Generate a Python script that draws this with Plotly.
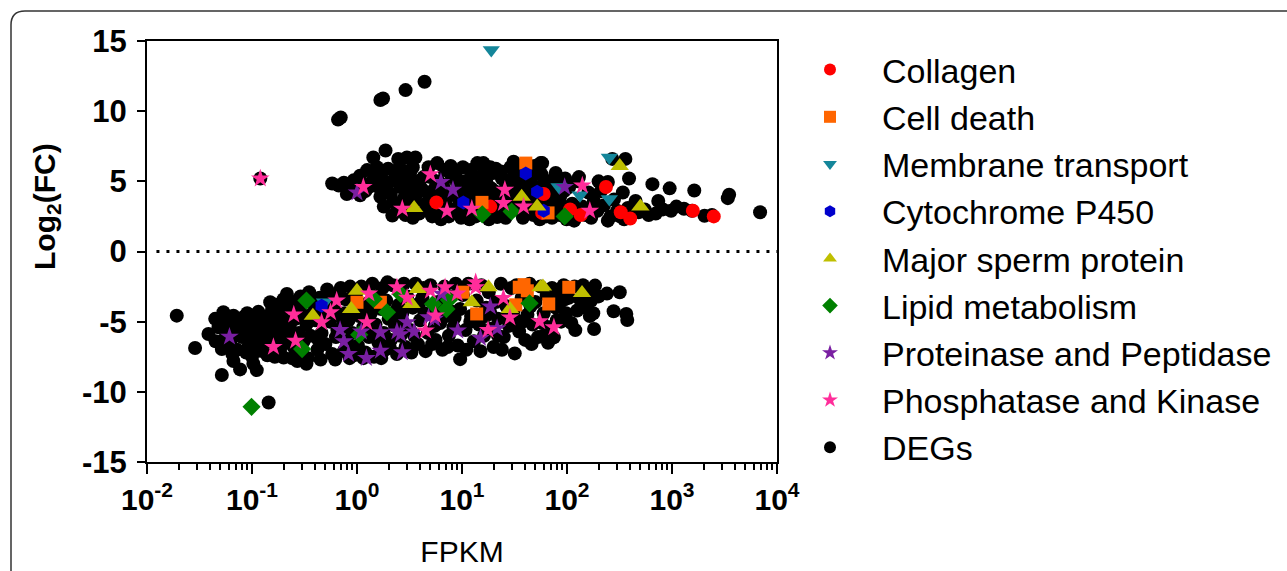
import plotly.graph_objects as go

# ---------------- data (FPKM, log2 fold change) ----------------
deg_up_fpkm = [0.66, 0.70, 1.67, 1.77, 2.9, 4.4, 0.12,
    0.58, 0.67, 0.80, 0.75, 0.93, 1.07, 1.07, 0.95, 1.15,
    1.43, 1.87, 1.5, 1.67, 1.98, 1.3, 1.6, 1.8, 1.4, 1.25, 1.55, 1.9,
    2.17, 2.47, 2.99, 3.6, 2.6, 3.2, 2.4, 2.2, 2.5, 2.8, 3.0, 3.3, 3.8, 2.3, 2.7, 3.5, 3.9, 2.9, 3.4, 3.7, 2.0,
    4.2, 5.0, 6.2, 8.0, 4.8, 4.5, 5.5, 6.0, 6.6, 7.0, 7.5, 8.5, 9.1, 9.5, 5.2, 4.6, 6.8, 9.0, 7.8, 5.8, 4.3, 8.8, 9.8, 6.3,
    12.0, 12.9, 16, 18.6, 11.5, 21.6, 10.5, 11, 13, 14, 14.5, 15.5, 17, 17.5, 19, 19.5, 20, 22, 23, 24, 25, 26, 27, 28,
    11.8, 13.5, 16.5, 18, 12.5, 15, 21, 29, 10.2, 14, 13.2,
    31, 56, 58, 78, 60, 32, 34, 36, 38, 42, 45, 48, 50, 53, 55, 62, 65, 70, 72, 75, 80, 85, 88, 92, 96, 35, 44, 68, 47, 39, 52, 63, 82, 99,
    117, 180, 245, 245, 105, 112, 125, 140, 150, 160, 170, 195, 210, 225, 260, 280, 300, 360, 390, 340, 380, 270, 130, 200, 320, 350,
    651, 950, 740, 1630, 3400, 3500, 6900, 980, 1300, 2040, 480, 550, 600, 450, 700, 820, 1100, 2400, 1550]
deg_up_fc = [9.4, 9.55, 10.8, 10.9, 11.5, 12.1, 5.2,
    4.85, 4.7, 4.1, 4.9, 5.07, 4.0, 5.4, 4.5, 4.8,
    6.7, 7.2, 5.3, 3.9, 5.9, 4.6, 4.6, 3.2, 5.0, 5.8, 6.0, 4.3,
    2.57, 6.6, 6.7, 6.7, 4.6, 5.6, 5.8, 3.5, 3.0, 3.8, 4.2, 4.8, 5.0, 5.2, 5.1, 3.6, 2.7, 2.6, 2.4, 4.1, 4.9,
    4.4, 5.3, 3.9, 5.3, 6.0, 3.4, 4.5, 2.8, 4.7, 3.4, 2.5, 4.0, 2.7, 3.6, 2.5, 2.9, 5.8, 4.8, 6.1, 6.3, 5.3, 5.7, 2.4, 2.3,
    5.8, 4.6, 6.3, 6.0, 3.9, 2.45, 5.0, 2.8, 3.3, 4.0, 5.3, 6.1, 5.0, 3.9, 4.5, 3.1, 5.6, 4.0, 2.9, 5.2, 3.5, 2.4, 4.7, 3.8,
    2.3, 2.5, 2.6, 2.3, 3.6, 4.4, 5.9, 6.0, 6.0, 6.3, 4.9,
    6.4, 6.3, 6.3, 5.6, 4.1, 3.0, 4.3, 5.0, 2.4, 3.6, 4.8, 2.6, 5.5, 3.4, 2.3, 5.0, 3.2, 4.2, 2.4, 5.2, 3.6, 2.6, 4.8, 3.2, 5.2, 5.8, 6.0, 2.8, 4.0, 3.3, 2.9, 2.5, 4.1, 2.3,
    2.2, 3.6, 4.95, 2.2, 4.6, 3.4, 5.0, 3.2, 2.6, 4.2, 2.4, 2.9, 4.3, 3.3, 2.5, 3.7, 2.9, 6.6, 5.2, 4.2, 3.1, 6.6, 5.3, 5.0, 2.5, 2.3,
    4.8, 4.5, 3.6, 4.35, 3.8, 4.05, 2.8, 2.9, 3.05, 2.55, 2.8, 3.0, 2.6, 3.6, 2.7, 3.0, 3.2, 2.6, 2.9]
deg_up_fpkm_extra = [10.8, 11.2, 12.2, 13.8, 14.8, 16, 16.8, 17.8, 19.2, 20.5,
    22.5, 23.5, 25.5, 26.5, 28.5, 30, 33, 37, 41, 43,
    46, 49, 54, 57, 66, 73, 77, 86, 94, 4.9,
    5.4, 6.0, 7.2, 8.2, 9.3, 3.1, 2.1, 1.2, 1.7, 2.6, 3.4, 4.0]
deg_up_fc_extra = [4.3, 3.3, 5.3, 2.9, 3.8, 4.8, 3.4, 5.6, 2.6, 4.3,
    3.4, 5.7, 4.4, 3.0, 4.5, 5.2, 3.7, 4.5, 5.2, 2.9,
    3.5, 6.1, 4.6, 5.5, 3.8, 3.0, 4.6, 3.9, 4.3, 4.0,
    3.2, 5.0, 4.2, 3.0, 4.4, 3.3, 4.1, 4.3, 5.5, 5.9, 6.0, 4.6]

deg_down_fpkm = [0.0192, 0.0287, 0.0516, 0.144, 0.0385, 0.0446, 0.0534, 0.0666, 0.0516, 0.0666, 0.077, 0.103, 0.111, 0.096,
    0.103, 0.139, 0.149, 0.215, 0.12, 0.2, 0.27, 0.33,
    0.048, 0.055, 0.06, 0.062, 0.07, 0.075, 0.08, 0.085, 0.088, 0.09, 0.095, 0.1, 0.105, 0.11, 0.115, 0.12, 0.125, 0.13,
    0.135, 0.14, 0.15, 0.155, 0.16, 0.17, 0.175, 0.18, 0.185, 0.19, 0.2, 0.21, 0.22, 0.23, 0.24, 0.25, 0.26, 0.27, 0.28,
    0.29, 0.3, 0.31, 0.065, 0.058, 0.072, 0.082, 0.098, 0.108, 0.165, 0.2, 0.24, 0.3,
    0.33, 0.35, 0.36, 0.38, 0.4, 0.42, 0.44, 0.46, 0.48, 0.5, 0.52, 0.55, 0.58, 0.6, 0.63, 0.66, 0.7, 0.72, 0.75, 0.78,
    0.8, 0.83, 0.86, 0.9, 0.93, 0.96, 0.98, 0.34, 0.45, 0.62, 0.4, 0.57, 0.85, 0.68,
    1.02, 1.05, 1.1, 1.15, 1.2, 1.25, 1.3, 1.35, 1.4, 1.45, 1.5, 1.55, 1.6, 1.7, 1.75, 1.8, 1.85, 1.9, 2.0, 2.1, 2.2,
    2.3, 2.4, 2.5, 2.6, 2.7, 2.8, 2.9, 3.0, 1.15, 1.7, 2.55, 1.95,
    3.2, 3.4, 3.6, 3.8, 4.0, 4.2, 4.5, 4.7, 5.0, 5.3, 5.6, 5.9, 6.2, 6.5, 6.8, 7.1, 7.5, 7.9, 8.3, 8.7, 9.1, 9.6, 9.6,
    3.3, 4.3, 5.5, 7.3, 8.5, 6.0, 3.9,
    10.2, 10.8, 11.5, 12.2, 13, 13.8, 14.5, 15.3, 16.2, 17, 18, 19, 20, 21, 22, 23.5, 25, 26.5, 28, 29.5, 11, 15, 24, 18.5, 27,
    31.8, 31, 33, 35, 37, 40, 42, 44, 47, 50, 53, 56, 60, 60, 64, 68, 72, 75, 78, 83, 88, 93, 98, 38, 46, 66, 85,
    104, 110, 118, 125, 133, 142, 150, 160, 170, 178, 181, 185, 200, 278, 318, 367, 375, 240, 120]
deg_down_fc = [-4.57, -6.88, -8.8, -10.76, -5.88, -4.8, -4.33, -4.57, -6.95, -7.8, -8.4, -8.0, -8.45, -6.6,
    -4.57, -5.17, -3.62, -3.02, -7.07, -7.55, -7.8, -8.0,
    -5.4, -6.2, -5.0, -6.6, -5.6, -4.9, -6.1, -5.3, -7.2, -4.4, -5.8, -7.5, -5.1, -6.3, -4.3, -5.7, -6.8, -4.8,
    -6.0, -7.4, -5.4, -4.2, -6.5, -5.0, -3.8, -6.0, -7.0, -4.5, -5.5, -6.5, -4.0, -5.2, -6.0, -3.6, -4.8, -7.0, -5.8,
    -3.2, -4.4, -6.4, -7.3, -5.8, -7.0, -4.7, -4.9, -7.0, -7.5, -3.4, -7.6, -7.2,
    -5.2, -2.9, -6.0, -3.7, -4.9, -7.0, -3.3, -5.8, -4.3, -6.6, -2.7, -5.0, -7.3, -3.9, -6.1, -4.6, -2.6, -5.4, -7.1, -3.4,
    -6.4, -4.9, -2.5, -5.8, -7.4, -4.2, -3.0, -7.6, -7.7, -7.7, -3.9, -3.4, -7.6, -2.9,
    -6.7, -4.6, -2.5, -5.4, -7.2, -3.7, -6.1, -4.4, -2.3, -7.5, -5.2, -3.2, -6.5, -4.1, -2.6, -5.8, -7.0, -3.5, -4.8, -6.3, -2.4,
    -5.3, -7.3, -3.8, -6.0, -4.4, -2.3, -6.8, -3.2, -7.6, -7.6, -5.0, -2.2,
    -5.6, -4.0, -2.3, -6.6, -4.9, -3.3, -7.1, -5.8, -2.4, -4.3, -6.3, -3.6, -5.1, -7.0, -2.5, -4.6, -6.0, -3.2, -5.4, -2.3, -6.7, -4.1, -7.67,
    -7.2, -2.6, -5.3, -6.8, -4.7, -4.0, -3.7,
    -3.1, -5.6, -2.3, -4.6, -6.4, -3.5, -5.2, -2.4, -6.0, -4.0, -2.9, -5.5, -6.8, -3.6, -4.8, -2.3, -6.1, -3.9, -5.3, -2.6, -7.0, -7.1, -7.0, -4.3, -4.6,
    -7.26, -4.2, -2.4, -5.7, -3.3, -6.3, -4.5, -2.3, -5.2, -3.6, -6.1, -2.5, -6.0, -4.4, -3.1, -5.4, -2.6, -6.12, -4.0, -3.0, -5.0, -2.4, -4.4, -5.0, -6.6, -6.5, -3.7,
    -3.3, -5.1, -2.5, -4.2, -3.4, -2.4, -4.0, -2.8, -3.5, -4.4, -5.52, -2.43, -3.2, -4.26, -2.9, -4.45, -4.88, -3.0, -5.6]
deg_down_fpkm_extra = [0.045, 0.05, 0.068, 0.078, 0.092, 0.118, 0.145, 0.16, 0.19, 0.22,
    0.25, 0.28, 0.37, 0.43, 0.53, 0.65, 0.76, 0.88, 1.12, 1.38,
    1.65, 2.05, 2.35, 2.75, 3.5, 4.4, 5.2, 6.6, 8.0, 12,
    16.8, 22, 33, 45, 58, 80, 95, 140, 165]
deg_down_fc_extra = [-6.4, -5.2, -6.0, -5.2, -6.8, -5.2, -4.6, -5.7, -6.0, -5.0,
    -6.8, -4.0, -4.5, -6.3, -4.0, -5.6, -4.4, -6.9, -4.0, -5.8,
    -3.8, -6.8, -4.2, -5.5, -6.0, -4.4, -6.6, -3.5, -4.3, -5.0,
    -4.6, -6.0, -4.9, -3.9, -5.1, -4.9, -3.4, -3.7, -4.6]

collagen_fpkm = [5.7, 18.6, 60, 58, 107, 135, 235, 325, 400, 1580, 2500]
collagen_fc = [3.5, 3.2, 4.1, 2.75, 3.0, 2.6, 4.6, 2.8, 2.35, 2.9, 2.5]

celldeath_fpkm = [15.5, 40.5, 66, 1.0, 1.67, 10.2, 13.8, 35.1, 41.9, 39, 104, 32.5, 67]
celldeath_fc = [3.5, 6.3, 2.75, -3.62, -3.62, -2.9, -4.45, -2.55, -2.8, -2.36, -2.55, -3.8, -3.74]

membrane_fpkm = [19, 253, 84, 133, 253, 0.49]
membrane_fc = [14.35, 6.7, 4.6, 4.0, 3.75, -3.62]

p450_fpkm = [10.3, 40.5, 52, 60, 0.46]
p450_fc = [3.5, 5.55, 4.25, 2.9, -3.86]

msp_fpkm = [3.5, 37, 52, 318, 500, 0.38, 1.0, 0.88, 3.8, 3.3, 12.4, 17.9, 56, 139, 28.6, 59]
msp_fc = [3.1, 3.9, 3.2, 6.1, 3.2, -4.57, -2.8, -4.1, -2.67, -3.74, -3.62, -2.55, -2.55, -2.95, -4.1, -2.5]

lipid_fpkm = [15.6, 29.7, 95, 0.099, 0.30, 0.33, 1.44, 1.93, 1.05, 2.6, 5.3, 7.5, 7.1, 44]
lipid_fc = [2.65, 2.85, 2.5, -11.07, -6.95, -3.5, -3.38, -4.33, -5.93, -3.02, -3.74, -3.45, -4.1, -3.69]

protease_fpkm = [1.0, 6.3, 8.2, 95, 0.061, 0.69, 0.75, 0.83, 1.23, 1.67, 1.67, 2.7, 2.4, 3.0, 3.5, 4.8, 9.1, 18.6,
    21.6, 15, 6.4, 2.6, 1.1, 5.5]
protease_fc = [4.2, 4.95, 4.4, 4.6, -6.07, -5.6, -6.4, -7.3, -7.6, -7.07, -5.76, -7.19, -5.7, -5.05, -5.7, -4.69, -5.64, -3.93,
    -5.48, -6.17, -3.02, -5.9, -5.7, -4.8]

kinase_fpkm = [0.12, 1.15, 5.0, 2.7, 7.2, 12.4, 25.6, 24.8, 38.6, 140, 165,
    0.16, 0.26, 0.25, 0.46, 0.64, 0.56, 1.24, 4.5, 5.6, 13.5, 2.4, 6.9, 5.0, 24.8, 28.6, 55, 75, 17.7, 13.5, 1.3, 3.0, 9.0]
kinase_fc = [5.2, 4.6, 5.5, 3.05, 2.9, 3.05, 4.4, 3.45, 3.2, 4.7, 2.9,
    -6.8, -6.36, -4.5, -5.05, -3.5, -4.33, -5.05, -5.64, -4.57, -2.2, -2.55, -2.55, -2.8, -3.31, -4.7, -4.98, -5.4, -5.6, -2.55, -3.0, -3.3, -3.0]

x_tick_vals = [0.01, 0.1, 1, 10, 100, 1000, 10000]
x_tick_text = ["10<sup>-2</sup>", "10<sup>-1</sup>", "10<sup>0</sup>", "10<sup>1</sup>",
               "10<sup>2</sup>", "10<sup>3</sup>", "10<sup>4</sup>"]
y_tick_vals = [-15, -10, -5, 0, 5, 10, 15]
y_tick_text = ["-15", "-10", "-5", "0", "5", "10", "15"]

# ---------------- figure geometry (pixels) ----------------
W, H = 1287, 571
L, R = 147, 510            # plot left / right margins
MT, MB = 0, 40             # layout margins (kept small so the legend has room)
PLOT_TOP, PLOT_BOT = 41, 462
GH = H - MT - MB           # height of the paper area
pw = W - L - R

def px_x(px):
    return (px - L) / pw

def px_y(py):
    return (GH + MT - py) / GH

FONT = "Liberation Sans, Arial, sans-serif"

series = [
    ("Collagen", collagen_fpkm, collagen_fc, "circle", "#FF0000", 14),
    ("Cell death", celldeath_fpkm, celldeath_fc, "square", "#FF6600", 13),
    ("Membrane transport", membrane_fpkm, membrane_fc, "triangle-down", "#14869A", 15),
    ("Cytochrome P450", p450_fpkm, p450_fc, "hexagon", "#0000CC", 14),
    ("Major sperm protein", msp_fpkm, msp_fc, "triangle-up", "#BFBF00", 16),
    ("Lipid metabolism", lipid_fpkm, lipid_fc, "diamond", "#008000", 14),
    ("Proteinase and Peptidase", protease_fpkm, protease_fc, "star", "#7A1FA2", 14),
    ("Phosphatase and Kinase", kinase_fpkm, kinase_fc, "star", "#FF2D9A", 14),
]

fig = go.Figure()
fig.add_trace(go.Scatter(
    x=deg_up_fpkm + deg_up_fpkm_extra + deg_down_fpkm + deg_down_fpkm_extra,
    y=deg_up_fc + deg_up_fc_extra + deg_down_fc + deg_down_fc_extra,
    mode="markers", name="DEGs",
    marker=dict(symbol="circle", color="#000000", size=14, line=dict(width=0)),
    legendrank=9, legendgroup="DEGs"))
for i, (name, xs, ys, sym, col, sz) in enumerate(series):
    fig.add_trace(go.Scatter(
        x=xs, y=ys, mode="markers", name=name,
        marker=dict(symbol=sym, color=col, size=sz, line=dict(width=0)),
        legendrank=i + 1, legendgroup=name))

axis_common = dict(showline=True, linecolor="black", linewidth=2, mirror=True,
                   ticks="outside", tickcolor="black", tickwidth=2,
                   showgrid=False, zeroline=False)

fig.update_xaxes(type="log", range=[-2, 4], tickmode="array", tickvals=x_tick_vals,
                 ticktext=x_tick_text, ticklen=10,
                 tickfont=dict(family=FONT, size=30, color="black", weight="bold"),
                 minor=dict(tickmode="array",
                            tickvals=[m * 10 ** e for e in range(-2, 4) for m in range(2, 10)],
                            ticks="outside", ticklen=6, tickwidth=2, tickcolor="black"),
                 title=dict(text="FPKM", font=dict(family=FONT, size=30, color="black"), standoff=26),
                 **axis_common)
fig.update_yaxes(range=[-15, 15], tickmode="array", tickvals=y_tick_vals, ticktext=y_tick_text,
                 ticklen=8, ticklabelstandoff=4,
                 domain=[px_y(PLOT_BOT), px_y(PLOT_TOP)],
                 tickfont=dict(family=FONT, size=31, color="black", weight="bold"),
                 **axis_common)

# y-axis title (sits above the axis centre in the reference)
fig.add_annotation(text="<b>Log<sub>2</sub>(FC)</b>", xref="paper", yref="paper",
                   x=px_x(46), y=px_y(206), xanchor="center", yanchor="middle",
                   textangle=-90, showarrow=False,
                   font=dict(family=FONT, size=30, color="black"))

# dotted zero line
fig.add_shape(type="line", xref="x domain", yref="y", x0=0.015, x1=1.0, y0=0, y1=0,
              line=dict(color="black", width=3, dash="3px,7px"))

# rounded outer frame of the figure panel
rr = 14
frame_path = (f"M {px_x(11)} {px_y(600)} L {px_x(11)} {px_y(11 + rr)} "
              f"Q {px_x(11)} {px_y(11)} {px_x(11 + rr)} {px_y(11)} L {px_x(1300)} {px_y(11)}")
fig.add_shape(type="path", xref="paper", yref="paper", path=frame_path,
              line=dict(color="#333333", width=1.5))

fig.update_layout(
    width=W, height=H, margin=dict(l=L, r=R, t=MT, b=MB, autoexpand=False),
    plot_bgcolor="white", paper_bgcolor="white",
    font=dict(family=FONT, color="black"),
    legend=dict(x=px_x(778), y=px_y(41), xanchor="left", yanchor="top",
                font=dict(family=FONT, size=34, color="black"),
                itemsizing="constant", tracegroupgap=0, bgcolor="rgba(0,0,0,0)",
                itemwidth=94),
    showlegend=True,
)

fig.write_html("out.html", config={"displayModeBar": False},
               post_script="document.body.style.margin='0px';")
